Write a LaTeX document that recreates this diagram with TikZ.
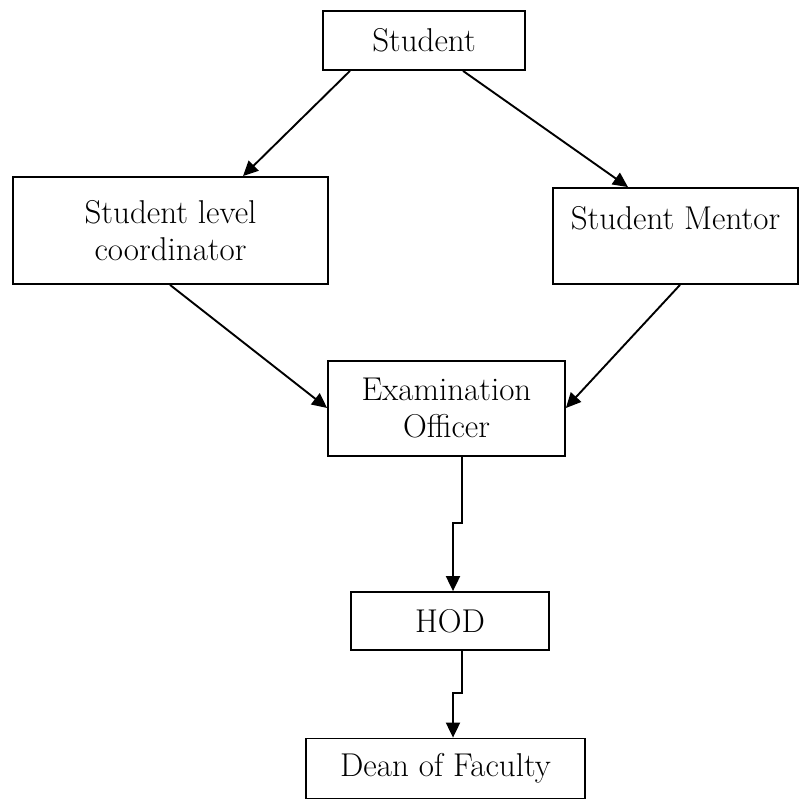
\documentclass[tikz,border=0pt]{standalone}
\usetikzlibrary{arrows.meta,calc}
\tikzset{
  box/.style={draw=black, line width=1.8pt, rectangle, align=center, inner sep=0pt,
              font=\fontsize{33}{37}\selectfont},
  arr/.style={line width=1.9pt, -{Triangle[length=15pt,width=14pt]}}
}
\begin{document}
\begin{tikzpicture}[x=1pt,y=-1pt]
\useasboundingbox (0,0) rectangle (799,800);
\node[box, minimum width=202pt, minimum height=59pt] (s) at (424,40.5) {Student};
\node[box, minimum width=315pt, minimum height=107pt] (slc) at (170.5,230.5) {Student level\\coordinator};
\node[box, minimum width=245pt, minimum height=96pt] (sm) at (675.5,236) {Student Mentor\\\phantom{X}};
\node[box, minimum width=237pt, minimum height=95pt] (eo) at (446.5,408.5) {Examination\\Officer};
\node[box, minimum width=198pt, minimum height=58pt] (hod) at (450,621) {HOD};
\node[box, minimum width=279pt, minimum height=60pt] (dean) at (445.5,768.5) {Dean of Faculty};
\draw[arr] (s.south -| 350,0) -- (slc.north -| 243,0);
\draw[arr] (s.south -| 463,0) -- (sm.north -| 628,0);
\draw[arr] (slc.south -| 170,0) -- (eo.west |- 0,408);
\draw[arr] (sm.south -| 680,0) -- (eo.east |- 0,408);
\draw[arr] (eo.south -| 462,0) -- (462,523) -| (hod.north -| 453,0);
\draw[arr] (hod.south -| 462,0) -- (462,693) -| (dean.north -| 453,0);
\end{tikzpicture}
\end{document}
